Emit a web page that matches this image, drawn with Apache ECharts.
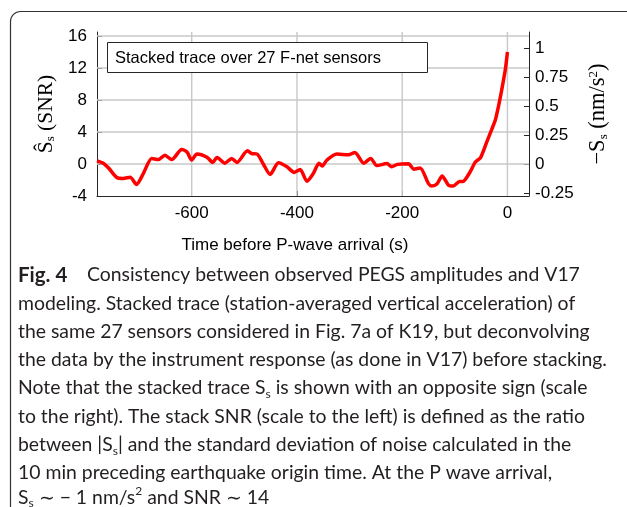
<!DOCTYPE html>
<html><head><meta charset="utf-8">
<script src="https://cdn.jsdelivr.net/npm/echarts@6/dist/echarts.min.js"></script>
<style>html,body{margin:0;padding:0;background:#fff;}#c{width:627px;height:507px;}</style>
</head><body><div id="c"></div>
<script>
// ---- data ----
const times = [-780,-768,-758,-743,-730,-717,-705,-692,-676,-663,-651,-638,-619,-609,-600,-590,-571,-560,-552,-537,-524,-514,-494,-486,-476,-464,-451,-435,-419,-405,-394,-381,-369,-358,-352,-343,-324,-302,-290,-273,-260,-248,-229,-220,-209,-188,-178,-166,-150,-144,-134,-124,-112,-103,-91,-85,-71,-61,-51,-39,-30,-23,-17,-11,-4,0];
const snr   = [0.4,0.1,-0.5,-1.65,-1.8,-1.65,-2.55,-1.2,0.7,0.55,1.1,0.55,1.8,1.5,0.5,1.25,0.85,0.2,0.8,0.1,0.7,0.2,1.65,1.3,1.25,0,-1.3,0.15,-0.35,-1.05,-0.7,-2.15,-1.2,0.1,-0.25,0.5,1.25,1.15,1.45,0.1,0.7,-0.2,0.05,-0.35,-0.05,0.02,-0.65,-0.5,-2.45,-2.75,-2.5,-1.5,-2.65,-2.75,-2.2,-2.2,-1.0,0.25,0.8,2.8,4.3,5.5,7.2,9.2,11.8,14.0];
const xTicks = [-600,-400,-200,0];
const leftTicks = [-4,0,4,8,12,16];
const rightTicks = [-0.25,0,0.25,0.5,0.75,1];
const xRange = [-780, 41];
const leftRange = [-4, 16.5];
const snrPerAccel = 14.45; // SNR units per nm/s^2 (right scale)
const legendText = 'Stacked trace over 27 F-net sensors';
const xName = 'Time before P-wave arrival (s)';
const leftName = '\u015C{sub|s} (SNR)';
const rightName = '\u2212S{sub|s} (nm/s{sup|2})';
const captionLines = [
  '{b|Fig. 4}Consistency between observed PEGS amplitudes and V17',
  'modeling. Stacked trace (station-averaged vertical acceleration) of',
  'the same 27 sensors considered in Fig. 7a of K19, but deconvolving',
  'the data by the instrument response (as done in V17) before stacking.',
  'Note that the stacked trace S{sub|s} is shown with an opposite sign (scale',
  'to the right). The stack SNR (scale to the left) is defined as the ratio',
  'between |S{sub|s}| and the standard deviation of noise calculated in the',
  '10 min preceding earthquake origin time. At the P wave arrival,',
  'S{sub|s} \u223C \u2212 1 nm/s{sup|2} and SNR \u223C 14'
];

const axisColor = '#262626';
const gridColor = '#c8c8c8';
const tickFont = 'Liberation Sans';
const capFont = 'Lato';
const capSize = 19.4;
const capTop = 275, capStep = 28.3;

const chart = echarts.init(document.getElementById('c'), null, {renderer: 'canvas'});

const nameRich = {
  sub: {fontSize: 13, lineHeight: 10, verticalAlign: 'bottom', fontFamily: 'Liberation Serif', color: '#000'},
  sup: {fontSize: 13, lineHeight: 10, verticalAlign: 'top', fontFamily: 'Liberation Serif', color: '#000'}
};
const capRich = {
  b: {fontWeight: 'bold', fontFamily: capFont, fontSize: 20.5, color: '#231f20', lineHeight: 24, width: 69},
  sub: {fontSize: 12, lineHeight: 8, verticalAlign: 'bottom', fontFamily: capFont, color: '#231f20'},
  sup: {fontSize: 12, lineHeight: 10, verticalAlign: 'top', fontFamily: capFont, color: '#231f20'}
};

const graphics = [{
  type: 'rect', silent: true,
  shape: {x: 10.5, y: 11.5, width: 720, height: 700, r: 10},
  style: {fill: 'none', stroke: '#333', lineWidth: 1.2}
}];
captionLines.forEach((t, i) => {
  const last = i === captionLines.length - 1;
  graphics.push({
    type: 'text', silent: true, x: 18, y: capTop + i * capStep - (last ? 4 : 0),
    style: {text: t, rich: capRich, fontFamily: capFont, fontSize: capSize, fill: '#231f20',
            verticalAlign: 'middle', align: 'left', lineHeight: 24}
  });
});

// grid lines drawn as thin series through the library's scales
const gridSeries = xTicks.map(v => [[v, leftRange[0]], [v, leftRange[1]]])
  .concat(leftTicks.filter(v => v > leftRange[0]).map(v => [[xRange[0], v], [xRange[1], v]]))
  .map(pts => ({
    type: 'line', data: pts, z: 1, silent: true, showSymbol: false,
    lineStyle: {color: gridColor, width: 1.4}
  }));

chart.setOption({
  animation: false,
  backgroundColor: '#fff',
  title: {
    text: legendText, left: 107, top: 42,
    padding: [7, 47, 6, 8],
    borderColor: axisColor, borderWidth: 1, backgroundColor: '#fff',
    textStyle: {fontFamily: tickFont, fontSize: 16.5, fontWeight: 'normal', color: '#000', lineHeight: 18}
  },
  grid: {left: 97, top: 32, width: 432, height: 164},
  xAxis: {
    type: 'value', min: xRange[0], max: xRange[1],
    name: xName, nameLocation: 'middle', nameGap: 41,
    nameTextStyle: {fontFamily: tickFont, fontSize: 17, color: '#000', padding: [0, 36, 0, 0]},
    axisLine: {onZero: false, lineStyle: {color: axisColor, width: 1}},
    axisTick: {inside: true, length: 5, customValues: xTicks, lineStyle: {color: axisColor}},
    axisLabel: {customValues: xTicks, fontFamily: tickFont, fontSize: 17, color: '#000', margin: 9},
    splitLine: {show: false}
  },
  yAxis: [{
    type: 'value', position: 'left', min: leftRange[0], max: leftRange[1],
    name: leftName, nameLocation: 'middle', nameGap: 33, nameRotate: 90,
    nameTextStyle: {fontFamily: 'Liberation Serif', fontSize: 21.5, color: '#000', rich: nameRich},
    axisLine: {show: true, onZero: false, lineStyle: {color: axisColor, width: 1}},
    axisTick: {show: true, inside: true, length: 5, customValues: leftTicks, lineStyle: {color: axisColor}},
    axisLabel: {customValues: leftTicks, fontFamily: tickFont, fontSize: 17, color: '#000', margin: 10},
    splitLine: {show: false}
  }, {
    type: 'value', position: 'right',
    min: leftRange[0] / snrPerAccel, max: leftRange[1] / snrPerAccel,
    name: rightName, nameLocation: 'middle', nameGap: 58, nameRotate: 90,
    nameTextStyle: {fontFamily: 'Liberation Serif', fontSize: 22.5, color: '#000', rich: nameRich},
    axisLine: {show: true, onZero: false, lineStyle: {color: axisColor, width: 1}},
    axisTick: {show: true, inside: true, length: 5, customValues: rightTicks, lineStyle: {color: axisColor}},
    axisLabel: {customValues: rightTicks, fontFamily: tickFont, fontSize: 17, color: '#000', margin: 6},
    splitLine: {show: false}
  }],
  series: gridSeries.concat([{
    type: 'line', yAxisIndex: 0, showSymbol: false, smooth: 0.25, z: 3,
    data: times.map((t, i) => [t, snr[i]]),
    lineStyle: {color: '#ff0000', width: 3.5}, itemStyle: {color: '#ff0000'},
    clip: false
  }]),
  graphic: graphics
});
</script></body></html>
